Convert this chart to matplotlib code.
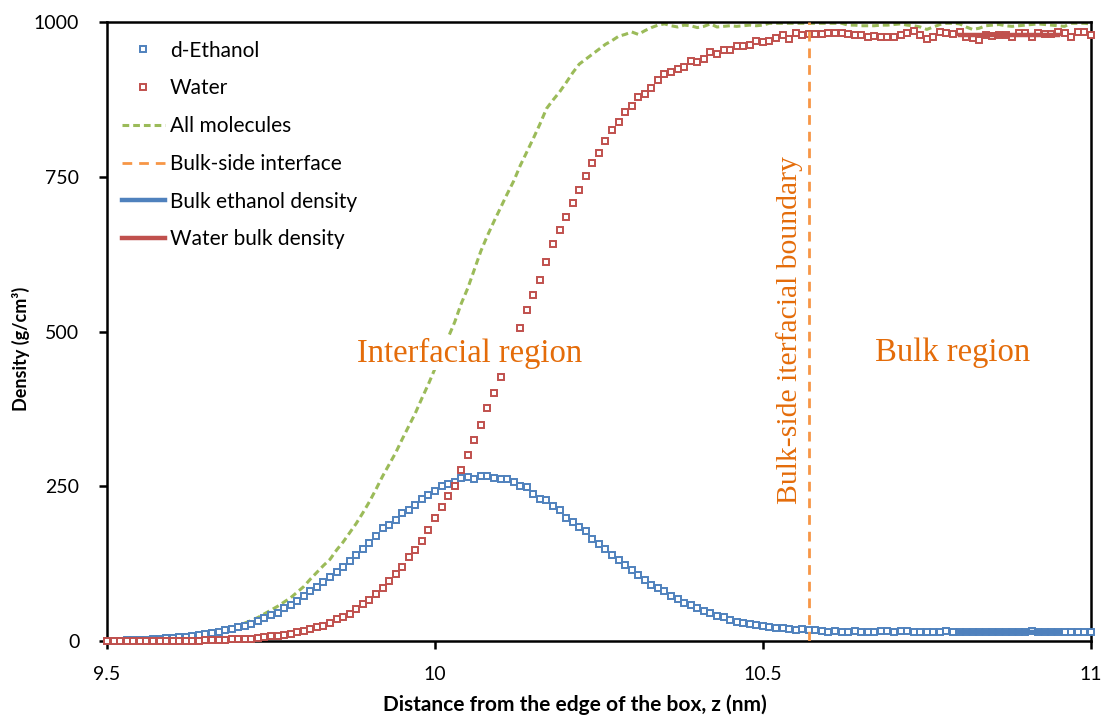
import matplotlib.pyplot as plt
import numpy as np

# distance from the box edge, one point every 0.01 nm
z = np.round(np.arange(9.50, 11.005, 0.01), 2)

ethanol = [0, 0, 0.5, 1, 1.6, 1.6, 2.2, 3.2, 3.8, 4.3,
           4.8, 5.9, 7, 8, 10, 12, 13, 15, 17, 19,
           22, 25, 28, 33, 37, 42, 46, 54, 58, 65,
           73, 81, 88, 96, 103, 111, 120, 130, 139, 149,
           159, 170, 182, 188, 196, 206, 211, 220, 230, 236,
           243, 250, 254, 257, 264, 265, 262, 266, 267, 263,
           261, 261, 257, 250, 248, 238, 230, 227, 218, 211,
           199, 193, 184, 177, 165, 157, 148, 139, 131, 122,
           114, 106, 98, 91, 86, 80, 73, 68, 61, 58,
           53, 48, 46, 40, 38, 34, 31, 29, 28, 26,
           24, 23, 21.5, 20.5, 20, 18, 19, 18, 17, 16,
           15, 16, 15, 15, 16, 15, 15, 15, 16, 16,
           15, 16, 16, 15, 15, 15, 15, 15, 16, 15,
           15, 14, 15, 15, 14, 15, 15, 15, 15, 15,
           15, 16, 15, 15, 15, 15, 15, 14, 15, 15,
           14]

water = [0, 0, 0, 0, 0, 0, 0, 0, 0, 0,
         0, 0, 0, 0, 0, 1.6, 1.6, 1.6, 1.6, 2.7,
         2.7, 3.8, 3.8, 5.4, 7, 8, 8.6, 10, 11, 14.5,
         16.5, 19.4, 22, 25, 29, 35, 39, 44, 52, 59,
         66, 76, 85, 97, 108, 120, 136, 147, 162, 179,
         198, 216, 235, 251, 277, 301, 325, 349, 376, 401,
         426, 452, 478, 505, 534, 559, 583, 612, 642, 664,
         685, 708, 729, 752, 773, 788, 808, 825, 838, 854,
         864, 879, 883, 894, 906, 916, 919, 924, 928, 937,
         936, 941, 952, 949, 955, 955, 962, 962, 963, 969,
         967, 970, 974, 979, 973, 982, 979, 980, 980, 981,
         983, 983, 983, 980, 979, 979, 975, 977, 976, 975,
         976, 979, 983, 985, 979, 973, 976, 984, 983, 981,
         984, 976, 974, 971, 979, 978, 979, 979, 975, 982,
         982, 976, 982, 981, 981, 984, 983, 975, 984, 984,
         979]

all_molecules = [0, 0, 1, 1, 2, 2, 2, 3, 4, 4,
                 5, 6, 7, 8, 10, 13, 15, 17, 19, 22,
                 24, 29, 33, 38, 44, 50, 56, 63, 70, 79,
                 88, 100, 111, 122, 132, 147, 160, 175, 190, 207,
                 225, 245, 266, 285, 304, 326, 347, 368, 392, 415,
                 440, 466, 490, 515, 545, 570, 600, 630, 655, 678,
                 700, 722, 743, 768, 790, 812, 835, 860, 874, 887,
                 902, 918, 932, 940, 948, 956, 964, 970, 977, 980,
                 984, 980, 986, 991, 995, 997, 994, 992, 995, 994,
                 991, 993, 997, 992, 993, 994, 993, 994, 995, 994,
                 995, 998, 998, 998, 998, 998, 998, 998, 998, 998,
                 998, 998, 998, 995, 995, 994, 994, 994, 995, 995,
                 996, 997, 995, 994, 992, 988, 992, 996, 998, 998,
                 997, 992, 988, 990, 994, 995, 996, 994, 993, 994,
                 995, 996, 997, 996, 995, 994, 993, 998, 998, 998,
                 997]

interface_z = 10.57
bulk_z = [10.80, 10.95]
bulk_ethanol = 15
bulk_water = 979

blue = "#4F81BD"
red = "#C0504D"
green = "#9BBB59"
orange = "#F79646"
text_orange = "#E46C0A"

fig = plt.figure(figsize=(11.04, 7.15), dpi=100)
ax = fig.add_axes([0.097, 0.1035, 0.891, 0.8657])

ax.plot(z, ethanol, linestyle="none", marker="s", markersize=3.8,
        markerfacecolor="white", markeredgecolor=blue, markeredgewidth=1.4,
        label="d-Ethanol", clip_on=False, zorder=3)
ax.plot(z, water, linestyle="none", marker="s", markersize=3.8,
        markerfacecolor="white", markeredgecolor=red, markeredgewidth=1.4,
        label="Water", clip_on=False, zorder=3)
ax.plot(z, all_molecules, color=green, lw=2.2, linestyle=(0, (2.2, 1.3)),
        label="All molecules", zorder=2)
ax.plot([interface_z, interface_z], [0, 1000], color=orange, lw=2,
        linestyle=(0, (3.5, 2.5)), label="Bulk-side interface", zorder=4)
ax.plot(bulk_z, [bulk_ethanol, bulk_ethanol], color=blue, lw=3.2,
        label="Bulk ethanol density", zorder=5)
ax.plot(bulk_z, [bulk_water, bulk_water], color=red, lw=3.2,
        label="Water bulk density", zorder=5)

serif = ["Liberation Serif", "DejaVu Serif"]
box = dict(facecolor="white", edgecolor="none", pad=1)
ax.text(10.053, 465, "Interfacial region", fontsize=23.5, family=serif,
        color=text_orange, ha="center", va="center", bbox=box, zorder=6)
ax.text(10.79, 465, "Bulk region", fontsize=23.5, family=serif,
        color=text_orange, ha="center", va="center", zorder=6)
ax.text(10.541, 503, "Bulk-side iterfacial boundary", fontsize=21.3, family=serif,
        color=text_orange, ha="center", va="center", rotation=90, zorder=6)

ax.set_xlim(9.5, 11)
ax.set_ylim(0, 1000)
ax.set_xticks([9.5, 10, 10.5, 11])
ax.set_xticklabels(["9.5", "10", "10.5", "11"])
ax.set_yticks([0, 250, 500, 750, 1000])

sans = ["Lato", "DejaVu Sans"]
for lab in ax.get_xticklabels() + ax.get_yticklabels():
    lab.set_family(sans)
    lab.set_fontsize(14)
ax.tick_params(axis="both", direction="out", length=6, width=1.8)
ax.tick_params(axis="x", pad=12)
ax.tick_params(axis="y", pad=14)

for s in ax.spines.values():
    s.set_linewidth(1.8)
    s.set_color("black")

ax.set_xlabel("Distance from the edge of the box, z (nm)", fontsize=15,
              fontweight="bold", family=sans)
ax.set_ylabel("Density (g/cm³)", fontsize=13, fontweight="bold", family=sans)
ax.xaxis.set_label_coords(0.476, -0.087)
ax.yaxis.set_label_coords(-0.078, 0.472)

leg = ax.legend(loc="upper left", bbox_to_anchor=(-0.004, 1.0), frameon=False,
                numpoints=1, handlelength=2.05, handletextpad=0.25,
                labelspacing=0.85, prop={"family": sans, "size": 15})

fig.savefig("out.png", dpi=100)
